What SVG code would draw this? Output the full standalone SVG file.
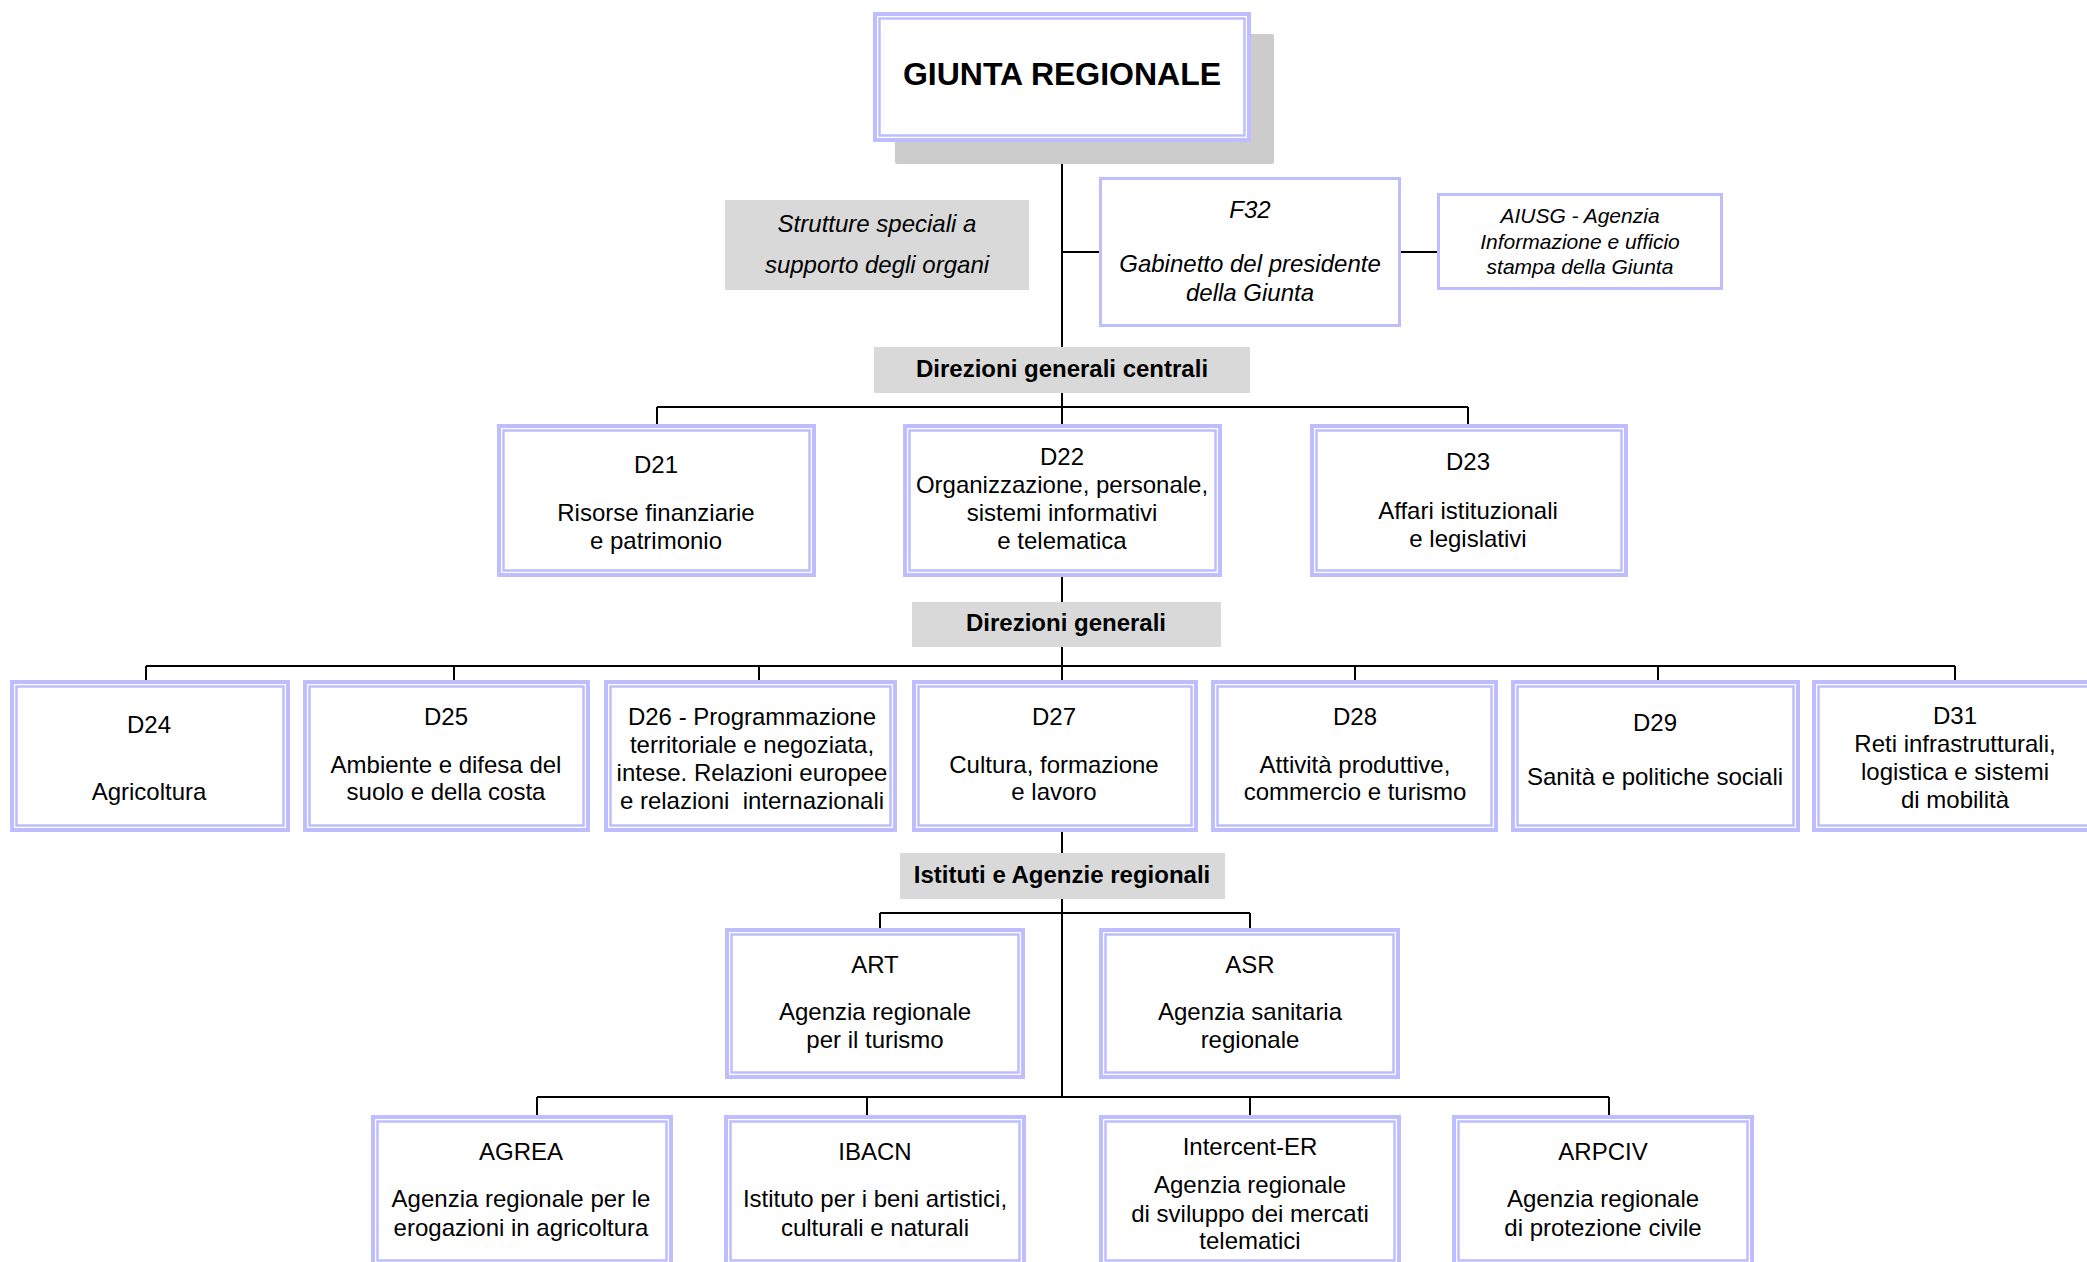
<svg xmlns="http://www.w3.org/2000/svg" width="2087" height="1262" viewBox="0 0 2087 1262">
<style>
text{font-family:"Liberation Sans",Arial,sans-serif;fill:#000;text-anchor:middle}
.t{font-size:24px}
.it{font-size:24px;font-style:italic}
.s{font-size:21px;font-style:italic}
.b{font-size:24px;font-weight:bold}
.g{font-size:32px;font-weight:bold}
.o{fill:#fff;stroke:#BDBDFF;stroke-width:4}
.i{fill:none;stroke:#BDBDFF;stroke-width:2.5}
.one{fill:#fff;stroke:#BDBDFF;stroke-width:3}
.lbl{fill:#D9D9D9}
.sh{fill:#CCCCCC}
.c path{fill:none;stroke:#000;stroke-width:2}
</style>
<rect width="2087" height="1262" fill="#fff"/>
<g class="c" id="connectors">
<path d="M1062 142V347"/>
<path d="M1062 393V407M657 407H1468M657 407V424M1062 407V424M1468 407V424"/>
<path d="M1062 252H1099M1401 252H1437"/>
<path d="M1062 577V602M1062 647V666M146 666H1955M146 666V680M454 666V680M759 666V680M1062 666V680M1355 666V680M1658 666V680M1955 666V680"/>
<path d="M1062 832V853M1062 899V1097M880 913H1250M880 913V928M1250 913V928M537 1097H1609M537 1097V1115M867 1097V1115M1250 1097V1115M1609 1097V1115"/>
</g>
<g id="giunta">
<rect class="sh" x="895" y="34" width="379" height="130" rx="2"/>
<rect class="o" x="875" y="14" width="374" height="126"/>
<rect class="i" x="879.5" y="18.5" width="365" height="117"/>
<text class="g" x="1062" y="85">GIUNTA REGIONALE</text>
</g>
<g id="strutture">
<rect class="lbl" x="725" y="200" width="304" height="90"/>
<text class="it" x="877" y="232">Strutture speciali a</text>
<text class="it" x="877" y="273">supporto degli organi</text>
</g>
<g id="f32">
<rect class="one" x="1100.5" y="178.5" width="299" height="147"/>
<text class="it" x="1250" y="218">F32</text>
<text class="it" x="1250" y="272">Gabinetto del presidente</text>
<text class="it" x="1250" y="301">della Giunta</text>
</g>
<g id="aiusg">
<rect class="one" x="1438.5" y="194.5" width="283" height="94"/>
<text class="s" x="1580" y="223">AIUSG - Agenzia</text>
<text class="s" x="1580" y="248.5">Informazione e ufficio</text>
<text class="s" x="1580" y="274">stampa della Giunta</text>
</g>
<g id="lbl-dgc">
<rect class="lbl" x="874" y="347" width="376" height="46"/>
<text class="b" x="1062" y="377">Direzioni generali centrali</text>
</g>
<g id="d21">
<rect class="o" x="499" y="426" width="315" height="149"/>
<rect class="i" x="503.5" y="430.5" width="306" height="140"/>
<text class="t" x="656" y="473">D21</text>
<text class="t" x="656" y="521">Risorse finanziarie</text>
<text class="t" x="656" y="549">e patrimonio</text>
</g>
<g id="d22">
<rect class="o" x="905" y="426" width="315" height="149"/>
<rect class="i" x="909.5" y="430.5" width="306" height="140"/>
<text class="t" x="1062" y="465">D22</text>
<text class="t" x="1062" y="493">Organizzazione, personale,</text>
<text class="t" x="1062" y="521">sistemi informativi</text>
<text class="t" x="1062" y="549">e telematica</text>
</g>
<g id="d23">
<rect class="o" x="1312" y="426" width="314" height="149"/>
<rect class="i" x="1316.5" y="430.5" width="305" height="140"/>
<text class="t" x="1468" y="470">D23</text>
<text class="t" x="1468" y="519">Affari istituzionali</text>
<text class="t" x="1468" y="547">e legislativi</text>
</g>
<g id="lbl-dg">
<rect class="lbl" x="912" y="602" width="309" height="45"/>
<text class="b" x="1066" y="631">Direzioni generali</text>
</g>
<g id="d24">
<rect class="o" x="12" y="682" width="276" height="148"/>
<rect class="i" x="16.5" y="686.5" width="267" height="139"/>
<text class="t" x="149" y="733">D24</text>
<text class="t" x="149" y="800">Agricoltura</text>
</g>
<g id="d25">
<rect class="o" x="305" y="682" width="283" height="148"/>
<rect class="i" x="309.5" y="686.5" width="274" height="139"/>
<text class="t" x="446" y="725">D25</text>
<text class="t" x="446" y="773">Ambiente e difesa del</text>
<text class="t" x="446" y="800">suolo e della costa</text>
</g>
<g id="d26">
<rect class="o" x="606" y="682" width="289" height="148"/>
<rect class="i" x="610.5" y="686.5" width="280" height="139"/>
<text class="t" x="752" y="725">D26 - Programmazione</text>
<text class="t" x="752" y="753">territoriale e negoziata,</text>
<text class="t" x="752" y="781">intese. Relazioni europee</text>
<text class="t" x="752" y="809" xml:space="preserve">e relazioni  internazionali</text>
</g>
<g id="d27">
<rect class="o" x="914" y="682" width="282" height="148"/>
<rect class="i" x="918.5" y="686.5" width="273" height="139"/>
<text class="t" x="1054" y="725">D27</text>
<text class="t" x="1054" y="773">Cultura, formazione</text>
<text class="t" x="1054" y="800">e lavoro</text>
</g>
<g id="d28">
<rect class="o" x="1213" y="682" width="283" height="148"/>
<rect class="i" x="1217.5" y="686.5" width="274" height="139"/>
<text class="t" x="1355" y="725">D28</text>
<text class="t" x="1355" y="773">Attività produttive,</text>
<text class="t" x="1355" y="800">commercio e turismo</text>
</g>
<g id="d29">
<rect class="o" x="1513" y="682" width="285" height="148"/>
<rect class="i" x="1517.5" y="686.5" width="276" height="139"/>
<text class="t" x="1655" y="731">D29</text>
<text class="t" x="1655" y="785">Sanità e politiche sociali</text>
</g>
<g id="d31">
<rect class="o" x="1814" y="682" width="286" height="148"/>
<rect class="i" x="1818.5" y="686.5" width="277" height="139"/>
<text class="t" x="1955" y="724">D31</text>
<text class="t" x="1955" y="752">Reti infrastrutturali,</text>
<text class="t" x="1955" y="780">logistica e sistemi</text>
<text class="t" x="1955" y="808">di mobilità</text>
</g>
<g id="lbl-ia">
<rect class="lbl" x="900" y="853" width="325" height="46"/>
<text class="b" x="1062" y="883">Istituti e Agenzie regionali</text>
</g>
<g id="art">
<rect class="o" x="727" y="930" width="296" height="147"/>
<rect class="i" x="731.5" y="934.5" width="287" height="138"/>
<text class="t" x="875" y="973">ART</text>
<text class="t" x="875" y="1020">Agenzia regionale</text>
<text class="t" x="875" y="1048">per il turismo</text>
</g>
<g id="asr">
<rect class="o" x="1101" y="930" width="297" height="147"/>
<rect class="i" x="1105.5" y="934.5" width="288" height="138"/>
<text class="t" x="1250" y="973">ASR</text>
<text class="t" x="1250" y="1020">Agenzia sanitaria</text>
<text class="t" x="1250" y="1048">regionale</text>
</g>
<g id="agrea">
<rect class="o" x="373" y="1117" width="298" height="148"/>
<rect class="i" x="377.5" y="1121.5" width="289" height="139"/>
<text class="t" x="521" y="1160">AGREA</text>
<text class="t" x="521" y="1207">Agenzia regionale per le</text>
<text class="t" x="521" y="1236">erogazioni in agricoltura</text>
</g>
<g id="ibacn">
<rect class="o" x="726" y="1117" width="298" height="148"/>
<rect class="i" x="730.5" y="1121.5" width="289" height="139"/>
<text class="t" x="875" y="1160">IBACN</text>
<text class="t" x="875" y="1207">Istituto per i beni artistici,</text>
<text class="t" x="875" y="1236">culturali e naturali</text>
</g>
<g id="intercent">
<rect class="o" x="1101" y="1117" width="298" height="148"/>
<rect class="i" x="1105.5" y="1121.5" width="289" height="139"/>
<text class="t" x="1250" y="1155">Intercent-ER</text>
<text class="t" x="1250" y="1193">Agenzia regionale</text>
<text class="t" x="1250" y="1222">di sviluppo dei mercati</text>
<text class="t" x="1250" y="1249">telematici</text>
</g>
<g id="arpciv">
<rect class="o" x="1454" y="1117" width="298" height="148"/>
<rect class="i" x="1458.5" y="1121.5" width="289" height="139"/>
<text class="t" x="1603" y="1160">ARPCIV</text>
<text class="t" x="1603" y="1207">Agenzia regionale</text>
<text class="t" x="1603" y="1236">di protezione civile</text>
</g>
</svg>
